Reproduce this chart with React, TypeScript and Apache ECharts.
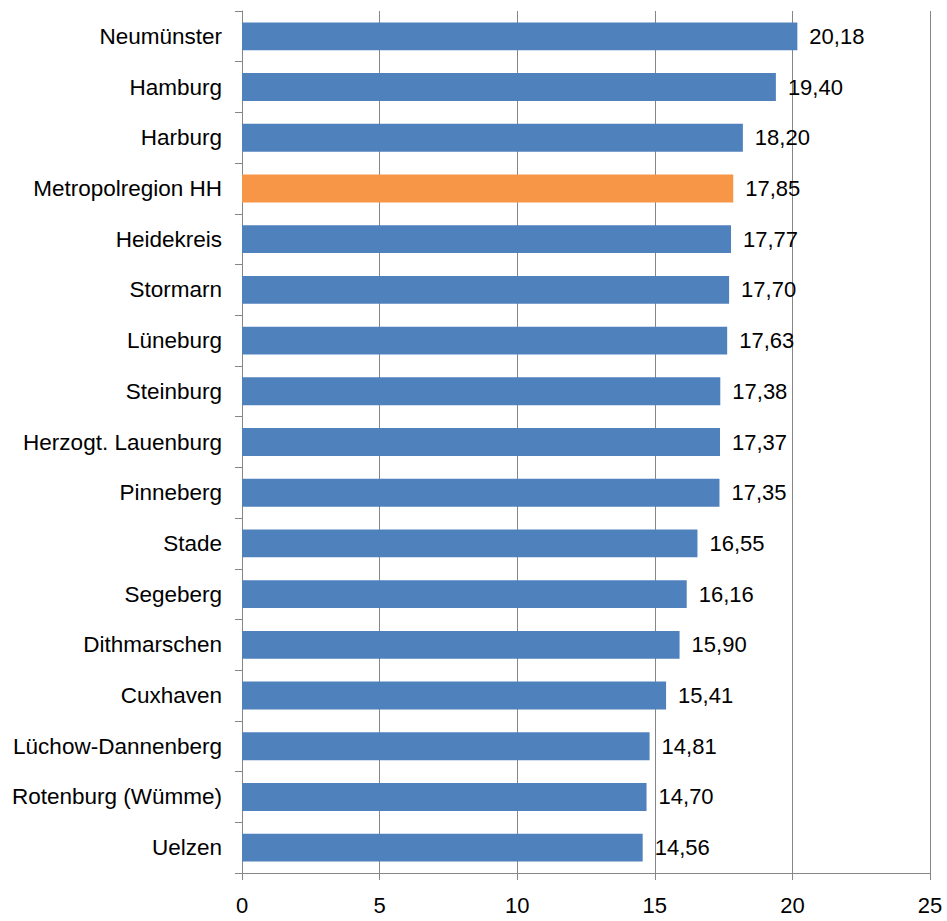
import React, { useEffect, useRef } from "react";
import * as echarts from "echarts";

// Regions, top to bottom as listed
const regions = [
  "Neumünster",
  "Hamburg",
  "Harburg",
  "Metropolregion HH",
  "Heidekreis",
  "Stormarn",
  "Lüneburg",
  "Steinburg",
  "Herzogt. Lauenburg",
  "Pinneberg",
  "Stade",
  "Segeberg",
  "Dithmarschen",
  "Cuxhaven",
  "Lüchow-Dannenberg",
  "Rotenburg (Wümme)",
  "Uelzen",
];

const values = [
  20.18, 19.4, 18.2, 17.85, 17.77, 17.7, 17.63, 17.38, 17.37, 17.35, 16.55,
  16.16, 15.9, 15.41, 14.81, 14.7, 14.56,
];

const highlighted = "Metropolregion HH";

const xTicks = { min: 0, max: 25, interval: 5 };

export default function App() {
  const ref = useRef<HTMLDivElement>(null);

  useEffect(() => {
    if (!ref.current) return;
    const chart = echarts.init(ref.current, undefined, { renderer: "svg" });
    const font = "'Liberation Sans', Arial, sans-serif";
    chart.setOption({
      animation: false,
      backgroundColor: "#ffffff",
      grid: { left: 242, right: 17, top: 11, bottom: 48, containLabel: false },
      xAxis: {
        type: "value",
        min: xTicks.min,
        max: xTicks.max,
        interval: xTicks.interval,
        axisLine: { show: true, lineStyle: { color: "#868686", width: 1 } },
        axisTick: { show: true, length: 7, lineStyle: { color: "#868686" } },
        splitLine: { show: true, lineStyle: { color: "#868686", width: 1 } },
        axisLabel: {
          color: "#000000",
          fontSize: 22,
          fontFamily: font,
          margin: 21,
        },
      },
      yAxis: {
        type: "category",
        data: regions,
        inverse: true,
        axisLine: { show: true, lineStyle: { color: "#868686", width: 1 } },
        axisTick: { show: true, length: 7, lineStyle: { color: "#868686" } },
        axisLabel: {
          color: "#000000",
          fontSize: 22.5,
          fontFamily: font,
          margin: 20,
        },
      },
      series: [
        {
          type: "bar",
          data: values.map((v, i) => ({
            value: v,
            itemStyle: {
              color: regions[i] === highlighted ? "#F79646" : "#4F81BD",
            },
          })),
          barCategoryGap: "45%",
          label: {
            show: true,
            position: "right",
            distance: 12,
            color: "#000000",
            fontSize: 22,
            fontFamily: font,
            formatter: (p: any) => p.value.toFixed(2).replace(".", ","),
          },
        },
      ],
    });
    return () => chart.dispose();
  }, []);

  return (
    <div
      ref={ref}
      style={{ position: "fixed", left: 0, top: 0, width: 947, height: 921 }}
    />
  );
}
